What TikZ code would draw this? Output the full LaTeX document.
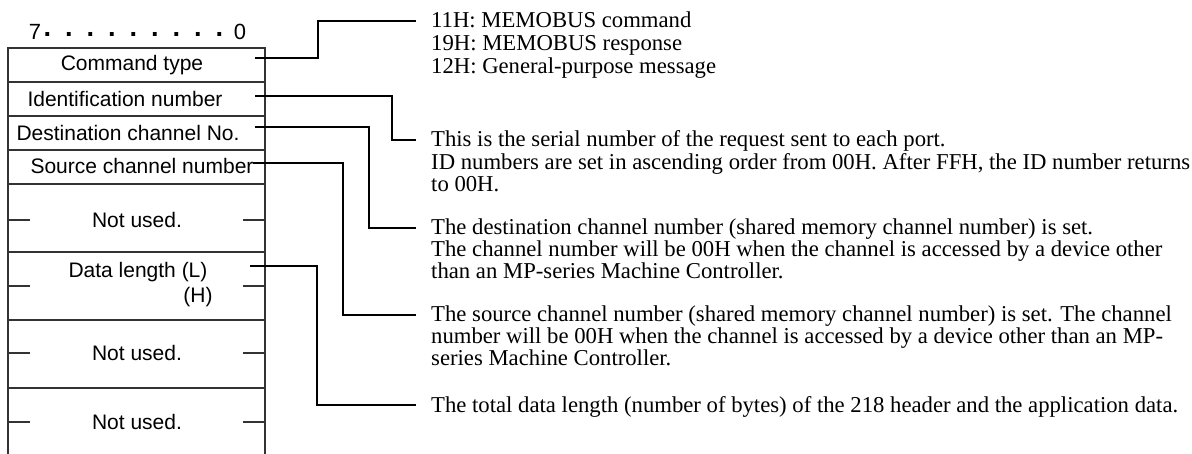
\documentclass[tikz,border=0pt]{standalone}
\usepackage{fontspec}
\setmainfont{Liberation Serif}
\setsansfont{Liberation Sans}
\usetikzlibrary{positioning}

\begin{document}
\begin{tikzpicture}[x=1pt,y=-1pt,
  field/.style={font=\sffamily\fontsize{21}{21}\selectfont,inner sep=0pt},
  bit/.style={font=\sffamily\fontsize{22}{22}\selectfont,inner sep=0pt,anchor=base},
  note/.style={font=\fontsize{22.7}{22.7}\selectfont,inner sep=0pt,anchor=base west},
  frame/.style={draw=black!80,line width=1.1pt},
  lead/.style={draw,line width=1.8pt}]
\useasboundingbox (0,0) rectangle (1192,454);
% bit order
\node[bit] (b7) at (35,40) {7};
\foreach \i in {0,...,8}
  \node[bit,font=\sffamily\bfseries\fontsize{27}{27}\selectfont] (dot\i) at (48+21.5*\i,43.5) {·};
\node[bit] (b0) at (240,40) {0};
% frame of the header
\draw[frame] (8,454) -- (8,48) -- (265,48) -- (265,454);
\foreach \y in {82,116,150,184,252,320,388}
  \draw[frame] (8,\y) -- (265,\y);
\foreach \y in {220,286,353,422} {
  \draw[frame] (8,\y) -- ++(22,0);
  \draw[frame] (265,\y) -- ++(-22,0);
}
% fields
\node[field] (cmd) at (132,65) {Command type};
\node[field] (idn) at (125,99) {Identification number};
\node[field] (dst) at (128,133) {Destination channel No.};
\node[field] (src) at (142,166) {Source channel number};
\node[field] (nu1) at (137,220) {Not used.};
\node[field] (lenl) at (138,272) {Data length (L)};
\node[field] (lenh) at (198,297) {(H)};
\node[field] (nu2) at (137,353) {Not used.};
\node[field] (nu3) at (137,422) {Not used.};
% notes
\node[note] (n1a) at (431,28) {11H: MEMOBUS command};
\node[note] (n1b) at (431,51) {19H: MEMOBUS response};
\node[note] (n1c) at (431,74) {12H: General-purpose message};
\node[note] (n2a) at (431,147) {This is the serial number of the request sent to each port.};
\node[note] (n2b) at (431,169.5) {ID numbers are set in ascending order from 00H. After FFH, the ID number returns};
\node[note] (n2c) at (431,192) {to 00H.};
\node[note] (n3a) at (431,235) {The destination channel number (shared memory channel number) is set.};
\node[note] (n3b) at (431,257) {The channel number will be 00H when the channel is accessed by a device other};
\node[note] (n3c) at (431,279) {than an MP-series Machine Controller.};
\node[note] (n4a) at (431,322) {The source channel number (shared memory channel number) is set. The channel};
\node[note] (n4b) at (431,344) {number will be 00H when the channel is accessed by a device other than an MP-};
\node[note] (n4c) at (431,366) {series Machine Controller.};
\node[note] (n5a) at (431,412) {The total data length (number of bytes) of the 218 header and the application data.};
% leaders
\coordinate (pcmd) at (255,58);
\coordinate (pidn) at (255,96);
\coordinate (pdst) at (255,127);
\coordinate (psrc) at (253,163);
\coordinate (plen) at (250,266);
\draw[lead] (pcmd) -- ++(63,0) |- ([xshift=-15pt,yshift=7pt]n1a.base west);
\draw[lead] (pidn) -- ++(137,0) |- ([xshift=-15pt,yshift=7pt]n2a.base west);
\draw[lead] (pdst) -- ++(114,0) |- ([xshift=-15pt,yshift=7pt]n3a.base west);
\draw[lead] (psrc) -- ++(90,0) |- ([xshift=-15pt,yshift=7pt]n4a.base west);
\draw[lead] (plen) -- ++(67,0) |- ([xshift=-15pt,yshift=7pt]n5a.base west);
\end{tikzpicture}
\end{document}
